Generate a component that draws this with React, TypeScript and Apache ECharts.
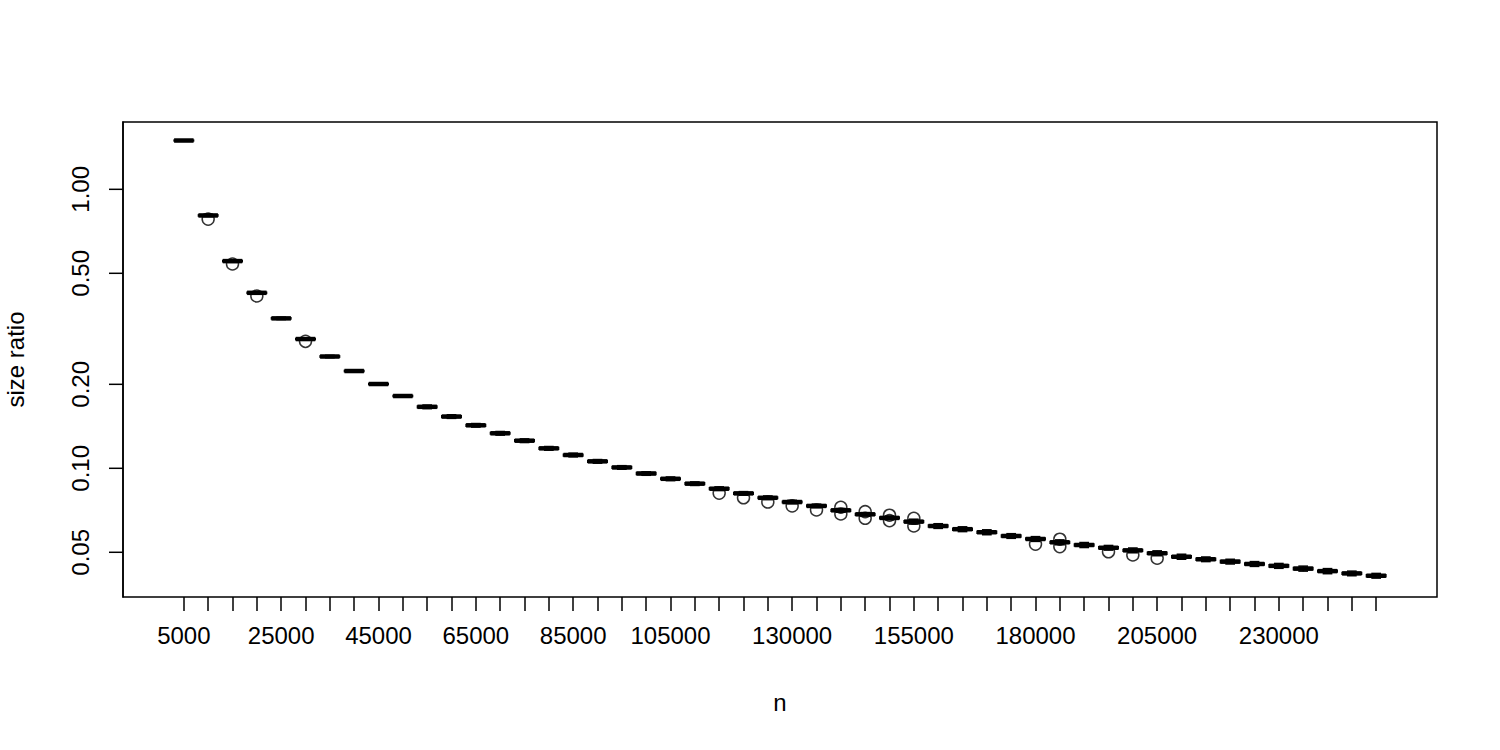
import React, { useEffect, useRef } from "react";
import * as echarts from "echarts";

// sample sizes n (one box per n)
const categories = [
  5000, 10000, 15000, 20000, 25000, 30000, 35000, 40000, 45000, 50000,
  55000, 60000, 65000, 70000, 75000, 80000, 85000, 90000, 95000, 100000,
  105000, 110000, 115000, 120000, 125000, 130000, 135000, 140000, 145000, 150000,
  155000, 160000, 165000, 170000, 175000, 180000, 185000, 190000, 195000, 200000,
  205000, 210000, 215000, 220000, 225000, 230000, 235000, 240000, 245000, 250000,
];

// tick labels that R kept on the x axis (others dropped for overlap)
const xLabelled = [5000, 25000, 45000, 65000, 85000, 105000, 130000, 155000, 180000, 205000, 230000];

const lowerWhisker = [
  1.489, 0.798, 0.547, 0.4213, 0.3413, 0.2877, 0.2491, 0.221, 0.1985, 0.1798,
  0.1636, 0.151, 0.1405, 0.1315, 0.1237, 0.1161, 0.1099, 0.1043, 0.0992, 0.0944,
  0.0903, 0.0868, 0.0832, 0.0801, 0.0772, 0.0746, 0.0722, 0.0696, 0.0674, 0.0654,
  0.0631, 0.0609, 0.0593, 0.0578, 0.0561, 0.0547, 0.0532, 0.052, 0.0509, 0.0498,
  0.0486, 0.0472, 0.0463, 0.0454, 0.0445, 0.0438, 0.0428, 0.0419, 0.0412, 0.0404,
];
const lowerQuartile = [
  1.491, 0.802, 0.55, 0.4235, 0.343, 0.2891, 0.2503, 0.2221, 0.1995, 0.1807,
  0.1649, 0.1522, 0.1416, 0.1326, 0.1247, 0.1171, 0.1108, 0.1052, 0.1, 0.0951,
  0.0911, 0.0875, 0.0839, 0.0807, 0.0779, 0.0752, 0.0728, 0.0702, 0.0679, 0.0659,
  0.0639, 0.0616, 0.06, 0.0585, 0.0567, 0.0554, 0.0539, 0.0527, 0.0515, 0.0504,
  0.0492, 0.0478, 0.0468, 0.0459, 0.045, 0.0443, 0.0433, 0.0425, 0.0417, 0.0409,
];
const medians = [
  1.496, 0.806, 0.553, 0.4256, 0.3447, 0.2906, 0.2516, 0.2232, 0.2005, 0.1816,
  0.1661, 0.1533, 0.1426, 0.1335, 0.1256, 0.1179, 0.1116, 0.1059, 0.1007, 0.0958,
  0.0917, 0.0881, 0.0845, 0.0813, 0.0784, 0.0757, 0.0733, 0.0707, 0.0684, 0.0664,
  0.0644, 0.0621, 0.0605, 0.059, 0.0572, 0.0558, 0.0543, 0.0531, 0.0519, 0.0508,
  0.0496, 0.0482, 0.0472, 0.0463, 0.0454, 0.0447, 0.0437, 0.0428, 0.042, 0.0412,
];
const upperQuartile = [
  1.501, 0.81, 0.556, 0.4277, 0.3464, 0.2921, 0.2529, 0.2243, 0.2015, 0.1825,
  0.1673, 0.1544, 0.1436, 0.1344, 0.1265, 0.1187, 0.1124, 0.1066, 0.1014, 0.0965,
  0.0923, 0.0887, 0.0851, 0.0819, 0.0789, 0.0762, 0.0738, 0.0712, 0.0689, 0.0669,
  0.0649, 0.0626, 0.061, 0.0595, 0.0577, 0.0562, 0.0547, 0.0535, 0.0523, 0.0512,
  0.05, 0.0486, 0.0476, 0.0467, 0.0458, 0.0451, 0.0441, 0.0431, 0.0423, 0.0415,
];
const upperWhisker = [
  1.503, 0.814, 0.559, 0.4299, 0.3481, 0.2935, 0.2541, 0.2254, 0.2025, 0.1834,
  0.1686, 0.1556, 0.1447, 0.1355, 0.1275, 0.1197, 0.1133, 0.1075, 0.1022, 0.0972,
  0.0931, 0.0894, 0.0858, 0.0825, 0.0796, 0.0768, 0.0744, 0.0718, 0.0694, 0.0674,
  0.0657, 0.0633, 0.0617, 0.0602, 0.0583, 0.0569, 0.0554, 0.0542, 0.0529, 0.0518,
  0.0506, 0.0492, 0.0481, 0.0472, 0.0463, 0.0456, 0.0446, 0.0437, 0.0428, 0.042,
];

// outliers: category n and value
const outlierN = [
  10000, 15000, 20000, 30000, 115000, 120000, 125000, 130000, 135000, 140000,
  140000, 145000, 145000, 150000, 150000, 155000, 155000, 180000, 185000, 185000,
  195000, 200000, 205000,
];
const outlierValue = [
  0.782, 0.54, 0.4145, 0.2852, 0.0815, 0.0784, 0.0757, 0.0733, 0.0709, 0.0725,
  0.0686, 0.0699, 0.0662, 0.0679, 0.0649, 0.0662, 0.0621, 0.0535, 0.0557, 0.0524,
  0.0502, 0.0489, 0.0476,
];

const yTicks = [0.05, 0.1, 0.2, 0.5, 1];

const FONT = "Liberation Sans";
const X_MIN = -1.5;
const X_MAX = 52.5;

export default function App() {
  const ref = useRef<HTMLDivElement>(null);

  useEffect(() => {
    if (!ref.current) return;
    const chart = echarts.init(ref.current, undefined, { renderer: "svg" });

    const pos = (n: number) => categories.indexOf(n) + 1;
    const boxData = categories.map((n, i) => [
      pos(n),
      lowerWhisker[i],
      lowerQuartile[i],
      medians[i],
      upperQuartile[i],
      upperWhisker[i],
    ]);
    const outData = outlierN.map((n, i) => [pos(n), outlierValue[i]]);

    const option: any = {
      animation: false,
      backgroundColor: "#fff",
      grid: {
        left: 123,
        top: 122,
        width: 1314,
        height: 475,
        containLabel: false,
        outerBoundsMode: "none",
        show: true,
        borderColor: "#000",
        borderWidth: 1.5,
        backgroundColor: "transparent",
      },
      xAxis: {
        type: "value",
        position: "bottom",
        min: X_MIN,
        max: X_MAX,
        name: "n",
        nameLocation: "middle",
        nameGap: 93,
        nameTextStyle: { fontFamily: FONT, fontSize: 24, color: "#000" },
        axisLine: { show: false, onZero: false },
        splitLine: { show: false },
        axisTick: {
          show: true,
          length: 14,
          customValues: categories.map((n) => pos(n)),
          lineStyle: { color: "#000", width: 1.5 },
        },
        axisLabel: {
          show: true,
          margin: 26,
          customValues: xLabelled.map((n) => pos(n)),
          formatter: (v: number) => String(categories[Math.round(v) - 1]),
          fontFamily: FONT,
          fontSize: 24,
          color: "#000",
        },
      },
      yAxis: {
        type: "log",
        position: "left",
        logBase: 10,
        min: 0.03457,
        max: 1.743,
        name: "size ratio",
        nameLocation: "middle",
        nameRotate: 90,
        nameGap: 96,
        nameTextStyle: { fontFamily: FONT, fontSize: 24, color: "#000" },
        axisLine: { show: true, onZero: false, lineStyle: { color: "#000", width: 1.5 } },
        splitLine: { show: false },
        minorTick: { show: false },
        axisTick: { show: false },
        axisLabel: {
          show: true,
          rotate: 90,
          margin: 31,
          customValues: yTicks,
          formatter: (v: number) => Number(v).toFixed(2),
          fontFamily: FONT,
          fontSize: 24,
          color: "#000",
        },
      },
      series: [
        {
          type: "custom",
          data: boxData,
          encode: { x: 0, y: [1, 2, 3, 4, 5] },
          renderItem: (params: any, api: any) => {
            const x = api.value(0);
            const lo = api.coord([x, api.value(1)]);
            const q1 = api.coord([x, api.value(2)]);
            const md = api.coord([x, api.value(3)]);
            const q3 = api.coord([x, api.value(4)]);
            const hi = api.coord([x, api.value(5)]);
            const left = api.coord([x - 0.4, api.value(3)])[0];
            const right = api.coord([x + 0.4, api.value(3)])[0];
            const w = right - left;
            const cx = md[0];
            const thin = { stroke: "#000", lineWidth: 1.5, fill: "none" };
            return {
              type: "group",
              children: [
                { type: "line", shape: { x1: cx, y1: lo[1], x2: cx, y2: q1[1] }, style: { ...thin, lineDash: [4, 4] } },
                { type: "line", shape: { x1: cx, y1: q3[1], x2: cx, y2: hi[1] }, style: { ...thin, lineDash: [4, 4] } },
                { type: "line", shape: { x1: cx - w / 4, y1: lo[1], x2: cx + w / 4, y2: lo[1] }, style: thin },
                { type: "line", shape: { x1: cx - w / 4, y1: hi[1], x2: cx + w / 4, y2: hi[1] }, style: thin },
                { type: "rect", shape: { x: left, y: q3[1], width: w, height: q1[1] - q3[1] }, style: thin },
                { type: "line", shape: { x1: left, y1: md[1], x2: right, y2: md[1] }, style: { stroke: "#000", lineWidth: 4.5 } },
              ],
            };
          },
          z: 2,
        },
        {
          type: "scatter",
          data: outData,
          symbol: "circle",
          symbolSize: 12,
          itemStyle: { color: "transparent", borderColor: "#000", borderWidth: 1.5 },
          z: 3,
        },
      ],
    };

    chart.setOption(option);

    // y-axis tick marks, positioned through the axis scale
    const gx = chart.convertToPixel({ xAxisIndex: 0 } as any, X_MIN) as unknown as number;
    const tickLines = yTicks.map((v) => {
      const py = chart.convertToPixel({ yAxisIndex: 0 } as any, v) as unknown as number;
      return {
        type: "line",
        z: 100,
        silent: true,
        shape: { x1: gx - 14, y1: py, x2: gx, y2: py },
        style: { stroke: "#000", lineWidth: 1.5 },
      };
    });
    chart.setOption({ graphic: { elements: tickLines } });

    return () => chart.dispose();
  }, []);

  return (
    <div
      ref={ref}
      style={{ position: "fixed", left: 0, top: 0, width: 1500, height: 750, background: "#fff" }}
    />
  );
}
